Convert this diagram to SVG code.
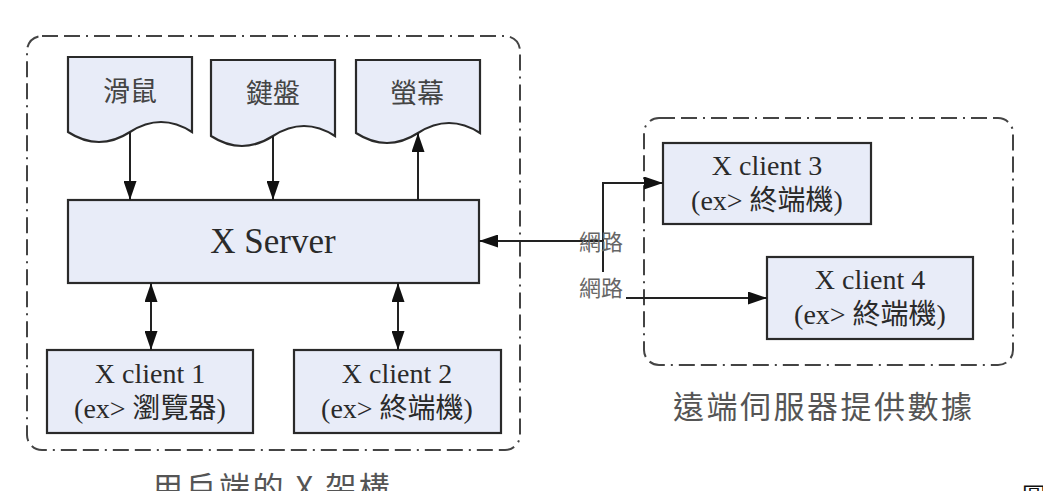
<svg xmlns="http://www.w3.org/2000/svg" width="1043" height="491" viewBox="0 0 1043 491">
<style>
.grp{fill:none;stroke:#444;stroke-width:2;stroke-dasharray:16 6 16 6 2 6}
.box{fill:#E8ECF8;stroke:#2a2a2a;stroke-width:2.2}
.lbl{font-family:"Liberation Serif","Noto Sans CJK TC",serif;fill:#2a2a2a;text-anchor:middle}
.cjk{font-family:"Noto Sans CJK TC","Liberation Sans",sans-serif;fill:#444;text-anchor:middle}
.cap{font-family:"Noto Sans CJK TC","Liberation Sans",sans-serif;fill:#555;font-size:31px;letter-spacing:2.5px}
.net{font-family:"Noto Sans CJK TC","Liberation Sans",sans-serif;fill:#666;font-size:22px;text-anchor:middle}
.con{fill:none;stroke:#222;stroke-width:2}
</style>
<defs>
<marker id="ah" viewBox="0 0 19 13" refX="19" refY="6.5" markerWidth="19" markerHeight="13" markerUnits="userSpaceOnUse" orient="auto-start-reverse">
<path d="M0,0 L19,6.5 L0,13 Z" fill="#111"/>
</marker>
</defs>
<rect width="1043" height="491" fill="#fff"/>

<g id="group-local">
<rect class="grp" x="27" y="36" width="493" height="414" rx="15"/>
<text class="cap" x="152" y="499">用戶端的 X 架構</text>
</g>
<g id="group-remote">
<rect class="grp" x="644" y="118" width="369" height="247" rx="15"/>
<text class="cap" x="673" y="418">遠端伺服器提供數據</text>
</g>

<g id="mouse">
<path class="box" d="M68,57 H192 V132 Q161,112 130,132 T68,132 Z"/>
<text class="cjk" x="130" y="101" font-size="27">滑鼠</text>
</g>
<g id="keyboard">
<path class="box" d="M211,60 H335 V136 Q304,116 273,136 T211,136 Z"/>
<text class="cjk" x="273" y="103" font-size="27">鍵盤</text>
</g>
<g id="screen">
<path class="box" d="M356,60 H480 V133 Q449,113 418,133 T356,133 Z"/>
<text class="cjk" x="417" y="103" font-size="27">螢幕</text>
</g>

<g id="xserver">
<rect class="box" x="68" y="200" width="411" height="83"/>
<text class="lbl" x="273" y="253" font-size="35">X Server</text>
</g>

<g id="client1">
<rect class="box" x="47" y="350" width="206" height="83"/>
<text class="lbl" x="150" y="383" font-size="28">X client 1</text>
<text class="lbl" x="150" y="418" font-size="28">(ex&gt; 瀏覽器)</text>
</g>
<g id="client2">
<rect class="box" x="294" y="350" width="207" height="83"/>
<text class="lbl" x="397" y="383" font-size="28">X client 2</text>
<text class="lbl" x="397" y="418" font-size="28">(ex&gt; 終端機)</text>
</g>
<g id="client3">
<rect class="box" x="663" y="143" width="208" height="81"/>
<text class="lbl" x="767" y="175" font-size="28">X client 3</text>
<text class="lbl" x="767" y="210" font-size="28">(ex&gt; 終端機)</text>
</g>
<g id="client4">
<rect class="box" x="767" y="257" width="206" height="82"/>
<text class="lbl" x="870" y="289" font-size="28">X client 4</text>
<text class="lbl" x="870" y="324" font-size="28">(ex&gt; 終端機)</text>
</g>

<g id="connectors">
<line class="con" x1="130" y1="132" x2="130" y2="200" marker-end="url(#ah)"/>
<line class="con" x1="273" y1="136" x2="273" y2="200" marker-end="url(#ah)"/>
<line class="con" x1="418" y1="200" x2="418" y2="133" marker-end="url(#ah)"/>
<line class="con" x1="151" y1="283" x2="151" y2="350" marker-start="url(#ah)" marker-end="url(#ah)"/>
<line class="con" x1="398" y1="283" x2="398" y2="350" marker-start="url(#ah)" marker-end="url(#ah)"/>
<line class="con" x1="603" y1="241" x2="479" y2="241" marker-end="url(#ah)"/>
<polyline class="con" points="603,272 603,183 663,183" marker-end="url(#ah)"/>
<line class="con" x1="626" y1="298" x2="767" y2="298" marker-end="url(#ah)"/>
<text class="net" x="601" y="250">網路</text>
<text class="net" x="601" y="296">網路</text>
</g>

<text x="1022" y="505" font-family="Noto Sans CJK TC,sans-serif" font-size="24" fill="#111">圖</text>
</svg>
